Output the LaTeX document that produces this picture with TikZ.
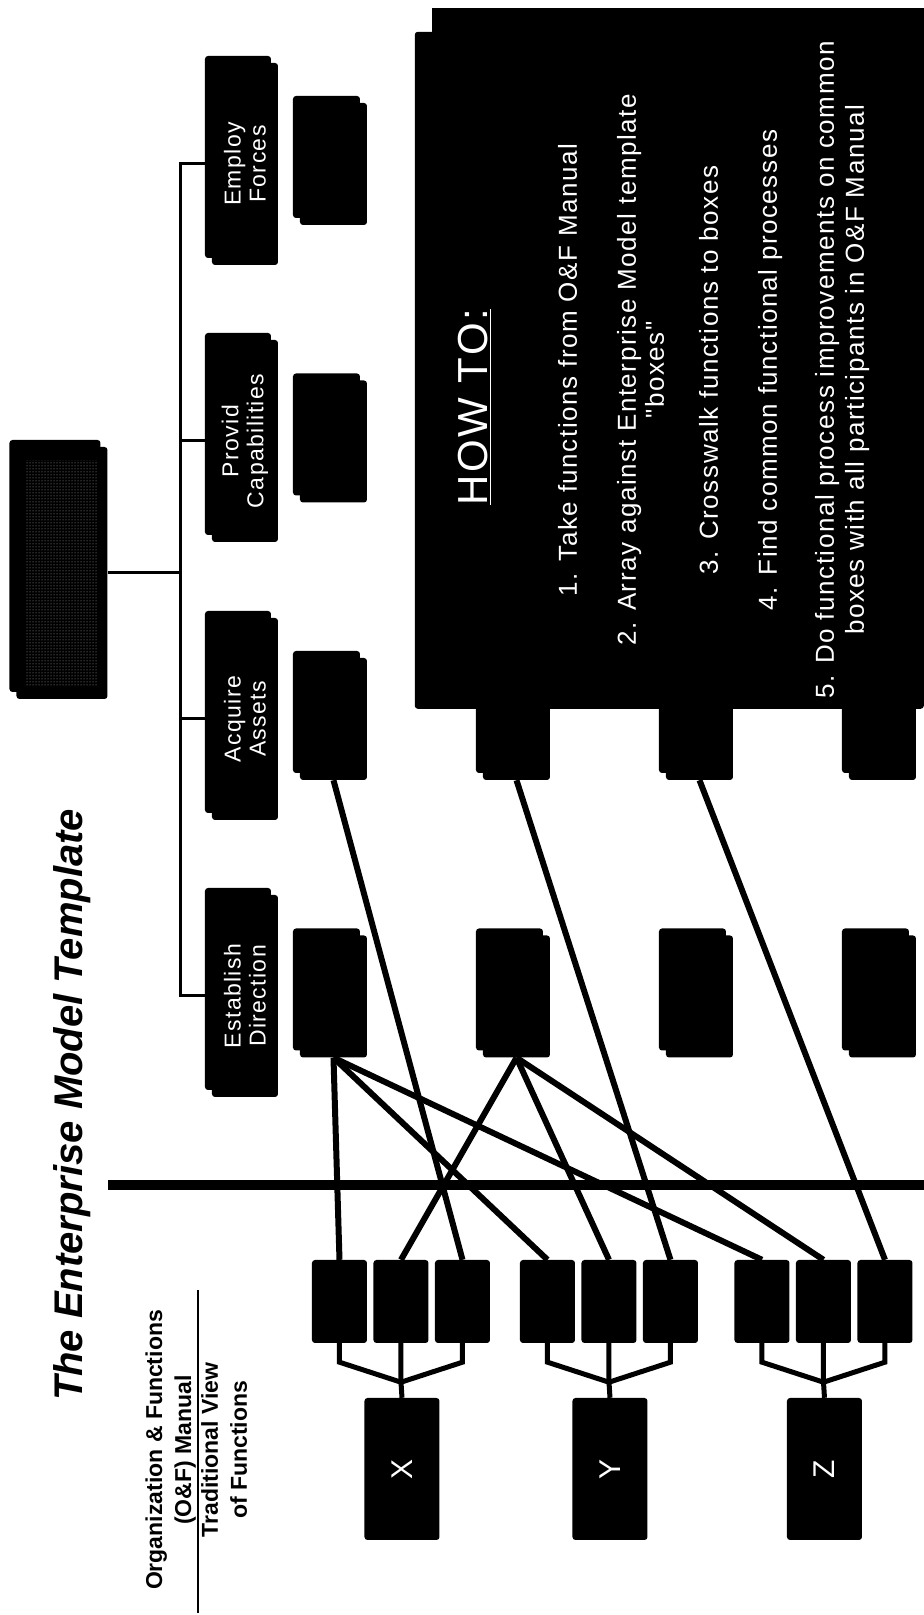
\documentclass[tikz,border=0pt]{standalone}
\usepackage{fontspec}
\setmainfont{Liberation Sans}
\newfontfamily\howfont[LetterSpace=6]{Liberation Sans}
\usetikzlibrary{shadows,patterns,calc}
\tikzset{
  card/.style={rectangle, rounded corners=3pt, fill=black, inner sep=0pt, text=white, align=center,
               copy shadow={shadow xshift=-7pt, shadow yshift=7pt, fill=black, draw=none}},
  topbox/.style={card, minimum width=202pt, minimum height=66pt, font=\howfont\fontsize{23}{25}\selectfont},
  fnbox/.style={card, minimum width=122pt, minimum height=67pt},
  rootbox/.style={card, minimum width=252pt, minimum height=91pt},
  orgbox/.style={rectangle, rounded corners=3pt, fill=black, text=white, inner sep=0pt,
                 minimum width=142pt, minimum height=75pt, font=\fontsize{30}{32}\selectfont},
  dutybox/.style={rectangle, rounded corners=3pt, fill=black, minimum width=83pt, minimum height=55pt},
  xline/.style={line width=6pt},
  forkline/.style={line width=5pt},
  busline/.style={line width=3pt},
  howline/.style={text=white, anchor=base, font=\howfont\fontsize{26}{29}\selectfont},
  oflabel/.style={font=\bfseries\fontsize{23}{29}\selectfont, align=center, inner sep=0pt},
}

\begin{document}
\begin{tikzpicture}[x=1pt, y=1pt]
\begin{scope}[rotate=90, transform shape]
\useasboundingbox (0,0) rectangle (1615,924);

% headings
\node[font=\bfseries\itshape\fontsize{40}{44}\selectfont, anchor=base] (title) at (510,841) {The Enterprise Model Template};
\node[oflabel, anchor=south] (ofman) at (165,728) {Organization \& Functions\\(O\&F) Manual};
\node[oflabel, anchor=north] (tradview) at (165,723) {Traditional View\\of Functions};
\draw[line width=2pt] (2,726) -- (325,726);
\draw[line width=10pt] (430,0) -- (430,816);

% enterprise model tree
\node[rootbox] (root) at (1042,862) {};
\fill[pattern=dots, pattern color=gray!70] ($(root.south west)+(14,10)$) rectangle ($(root.north east)+(-14,-10)$);
\foreach \n/\u/\t in {est/619/{Establish\\Direction}, acq/896/{Acquire\\Assets},
                      prv/1174/{Provid\\Capabilities}, emp/1451/{Employ\\Forces}}
  \node[topbox] (\n) at (\u,679) {\t};
\coordinate (bus) at (0,743);
\draw[busline] (root.south) -- (root.south |- bus);
\draw[busline] (est.north) -- (est.north |- bus) -- (emp.north |- bus) -- (emp.north);
\foreach \n in {acq,prv}
  \draw[busline] (\n.north) -- (\n.north |- bus);

% template boxes
\foreach \r/\v in {1/590.5, 2/407.5, 3/224.5, 4/41.5} {
  \node[fnbox] (est\r) at (618.5,\v) {};
  \node[fnbox] (acq\r) at (896,\v) {};
}
\node[fnbox] (prv1) at (1173.5,590.5) {};
\node[fnbox] (emp1) at (1451,590.5) {};

% O&F organizations and their functions
\foreach \g/\vc/\lbl in {x/523/X, y/315/Y, z/100.5/Z} {
  \node[orgbox] (org\g) at (146,\vc-1) {\lbl};
  \foreach \k/\dv in {1/61.5, 2/0, 3/-61.5}
    \node[dutybox] (f\g\k) at (313.5,\vc+\dv) {};
  \coordinate (j\g) at ($(f\g2.west)+(-39,0)$);
  \draw[forkline] (f\g1.west) -- ++(-19,0) -- (j\g);
  \draw[forkline] (f\g3.west) -- ++(-19,0) -- (j\g);
  \draw[forkline] (f\g2.west) -- (j\g) -- (org\g.east);
}

% crosswalk
\foreach \s/\t in {est1/fx1, est1/fy1, est1/fz1, est2/fx2, est2/fy2, est2/fz2,
                   acq1/fx3, acq2/fy3, acq3/fz3}
  \draw[xline] (\s.west) -- (\t.east);

% how to
\fill (930,0) rectangle (1607,492);
\node[fill=black, rounded corners=3pt, minimum width=677pt, minimum height=509pt, inner sep=0pt,
      anchor=south west] (howto) at (906,0) {};
\node[howline, font=\howfont\fontsize{42}{44}\selectfont] (howtitle) at (1208,436) {\underline{HOW TO:}};
\foreach \v/\t [count=\i] in {347/{1. Take functions from O\&F Manual},
    288/{2. Array against Enterprise Model template}, 260/{"boxes"},
    206/{3. Crosswalk functions to boxes}, 147/{4. Find common functional processes},
    90/{5. Do functional process improvements on common},
    60/{boxes with all participants in O\&F Manual}}
  \node[howline] (howitem\i) at (1245,\v) {\t};
\end{scope}
\end{tikzpicture}
\end{document}
